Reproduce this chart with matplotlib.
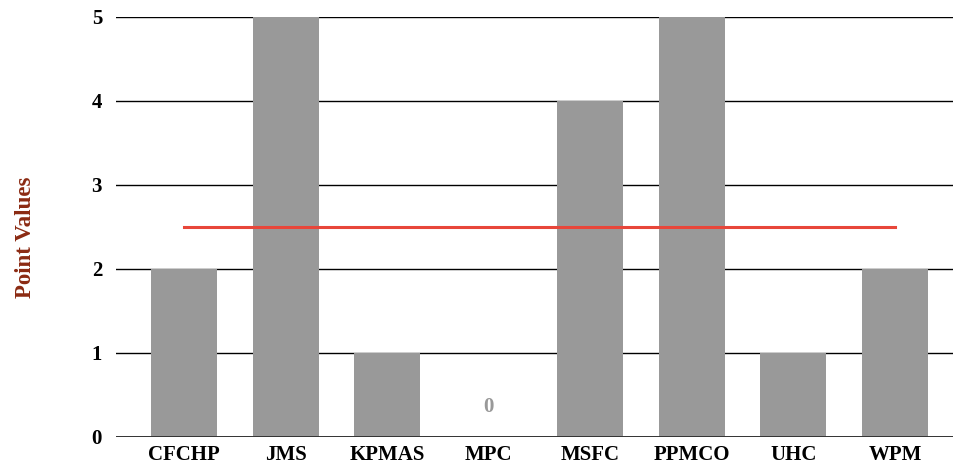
import matplotlib
matplotlib.use("Agg")
import matplotlib.pyplot as plt
import numpy as np

categories = ["CFCHP", "JMS", "KPMAS", "MPC", "MSFC", "PPMCO", "UHC", "WPM"]
values = [2, 5, 1, 0, 4, 5, 1, 2]
yticks = [0, 1, 2, 3, 4, 5]

plt.rcParams['font.family'] = ['Liberation Serif', 'DejaVu Serif']

fig = plt.figure(figsize=(9.54, 4.67), dpi=100)
ax = fig.add_axes([116/954, 30/467, (953-116)/954, (437-17)/467])

x = np.arange(len(categories))
ax.bar(x, values, width=0.65, color="#999999", zorder=3)

for yv in yticks:
    ax.axhline(yv, color="black", lw=1.0, zorder=2)
ax.axhline(0, color="#333333", lw=1.4, zorder=4)

mean = np.mean(values)
ax.plot([x[0], x[-1]], [mean, mean], color="#e8463a", lw=2.2, zorder=5)

for xi, v in zip(x, values):
    if v == 0:
        ax.text(xi, 0.36, "0", ha="center", va="center", color="#999999",
                fontsize=15, fontweight="bold")

ax.set_xlim(-0.669, 7.571)
ax.set_ylim(0, 5)
ax.set_xticks(x)
ax.set_xticklabels(categories, fontsize=15, fontweight="bold")
ax.set_yticks(yticks)
ax.set_yticklabels([str(t) for t in yticks], fontsize=15, fontweight="bold")
ax.tick_params(length=0, pad=10)
ax.tick_params(axis='x', pad=6)
for s in ax.spines.values():
    s.set_visible(False)
ax.set_ylabel("Point Values", color="#8b2a12", fontsize=16.5, fontweight="bold")
ax.yaxis.set_label_coords(-0.1087, 0.476)
ax.yaxis.label.set_va("center")

fig.savefig("out.png", dpi=100)
